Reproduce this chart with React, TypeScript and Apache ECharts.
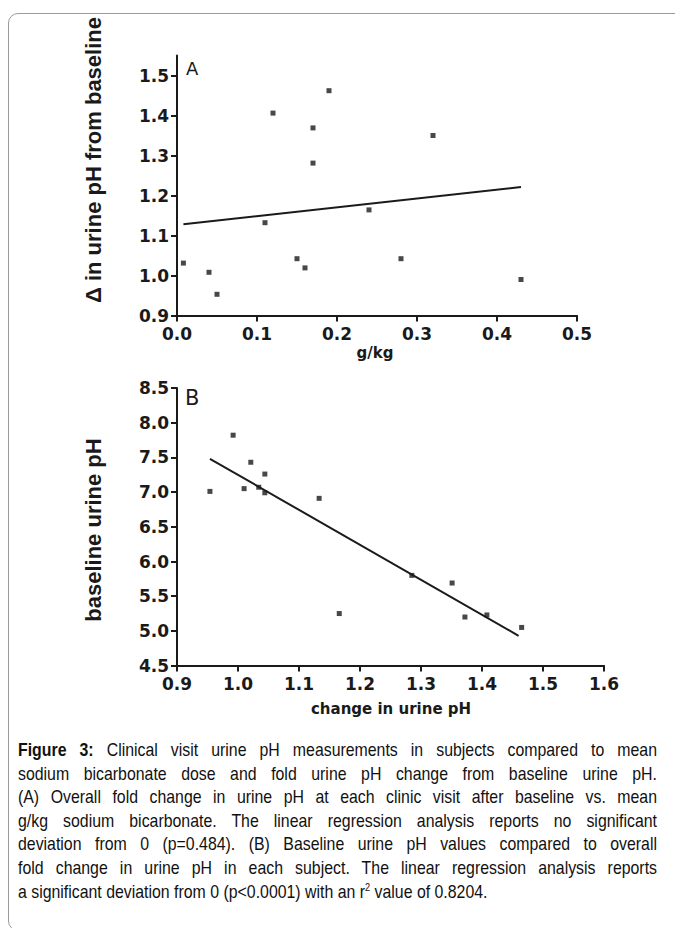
import React, { useEffect, useRef } from "react";
import * as echarts from "echarts";

// Panel A: mean g/kg sodium bicarbonate vs fold change in urine pH
const doseA = [0.008, 0.04, 0.05, 0.11, 0.12, 0.15, 0.16, 0.17, 0.17, 0.19, 0.24, 0.28, 0.32, 0.43];
const foldA = [1.031, 1.008, 0.953, 1.132, 1.406, 1.042, 1.019, 1.369, 1.281, 1.462, 1.164, 1.042, 1.35, 0.99];
const fitAx = [0.008, 0.43];
const fitAy = [1.128, 1.221];
const yTicksA = [0.9, 1.0, 1.1, 1.2, 1.3, 1.4, 1.5];

// Panel B: fold change vs baseline urine pH
const changeB = [0.954, 0.992, 1.021, 1.01, 1.034, 1.044, 1.044, 1.133, 1.166, 1.285, 1.351, 1.372, 1.408, 1.465];
const baseB = [7.01, 7.82, 7.43, 7.05, 7.07, 7.26, 6.99, 6.91, 5.25, 5.8, 5.69, 5.2, 5.23, 5.05];
const fitBx = [0.954, 1.46];
const fitBy = [7.48, 4.93];

const captionLines = [
  "Clinical visit urine pH measurements in subjects compared to mean",
  "sodium bicarbonate dose and fold urine pH change from baseline urine pH.",
  "(A) Overall fold change in urine pH at each clinic visit after baseline vs. mean",
  "g/kg sodium bicarbonate. The linear regression analysis reports no significant",
  "deviation from 0 (p=0.484). (B) Baseline urine pH values compared to overall",
  "fold change in urine pH in each subject. The linear regression analysis reports",
];

const FONT = "'Liberation Sans', Arial, Helvetica, sans-serif";
const WIDE = "'DejaVu Sans', 'Liberation Sans', sans-serif";
const INK = "#1a1a1a";

function axisCommon() {
  return {
    axisLine: { show: true, onZero: false, lineStyle: { color: INK, width: 2 } },
    axisTick: { show: true, inside: false, length: 6, lineStyle: { color: INK, width: 2 } },
    splitLine: { show: false },
    axisLabel: {
      color: INK,
      fontFamily: WIDE,
      fontWeight: "bold" as const,
      fontSize: 17,
      formatter: (v: number) => v.toFixed(1),
    },
  };
}

export default function App() {
  const ref = useRef<HTMLDivElement>(null);
  useEffect(() => {
    if (!ref.current) return;
    const chart = echarts.init(ref.current, null, { renderer: "svg" });
    const sym = { symbol: "rect", symbolSize: 5, itemStyle: { color: INK } };
    chart.setOption({
      animation: false,
      grid: [
        { left: 177, top: 55.5, width: 400, height: 260 },
        { left: 177, top: 388, width: 427, height: 277.6 },
      ],
      xAxis: [
        { type: "value", gridIndex: 0, min: 0, max: 0.5, interval: 0.1, ...axisCommon(),
          axisLabel: { ...axisCommon().axisLabel, margin: 10 } },
        { type: "value", gridIndex: 1, min: 0.9, max: 1.6, interval: 0.1, ...axisCommon(),
          axisLabel: { ...axisCommon().axisLabel, margin: 10 } },
      ],
      yAxis: [
        { type: "value", gridIndex: 0, min: 0.9, max: 1.55, ...axisCommon(),
          axisTick: { ...axisCommon().axisTick, customValues: yTicksA },
          axisLabel: { ...axisCommon().axisLabel, customValues: yTicksA, margin: 8 } },
        { type: "value", gridIndex: 1, min: 4.5, max: 8.5, interval: 0.5, ...axisCommon(),
          axisLabel: { ...axisCommon().axisLabel, margin: 8 } },
      ],
      series: [
        { type: "scatter", xAxisIndex: 0, yAxisIndex: 0, data: doseA.map((x, i) => [x, foldA[i]]), ...sym },
        { type: "line", xAxisIndex: 0, yAxisIndex: 0, data: fitAx.map((x, i) => [x, fitAy[i]]),
          showSymbol: false, lineStyle: { color: INK, width: 2 } },
        { type: "scatter", xAxisIndex: 1, yAxisIndex: 1, data: changeB.map((x, i) => [x, baseB[i]]), ...sym },
        { type: "line", xAxisIndex: 1, yAxisIndex: 1, data: fitBx.map((x, i) => [x, fitBy[i]]),
          showSymbol: false, lineStyle: { color: INK, width: 2 } },
      ],
      graphic: [
        { type: "text", x: 186, y: 68, style: { text: "A", fontFamily: WIDE, fontSize: 18, fill: INK, verticalAlign: "middle" } },
        { type: "text", x: 185, y: 398, style: { text: "B", fontFamily: WIDE, fontSize: 21, fill: INK, verticalAlign: "middle" } },
        { type: "text", x: 93, y: 160, rotation: Math.PI / 2,
          style: { text: "Δ in urine pH from baseline", fontFamily: FONT, fontWeight: "bold", fontSize: 22, fill: INK, align: "center", verticalAlign: "middle" } },
        { type: "text", x: 93, y: 530, rotation: Math.PI / 2,
          style: { text: "baseline urine pH", fontFamily: FONT, fontWeight: "bold", fontSize: 22, fill: INK, align: "center", verticalAlign: "middle" } },
        { type: "text", x: 375, y: 353,
          style: { text: "g/kg", fontFamily: WIDE, fontWeight: "bold", fontSize: 15, fill: INK, align: "center", verticalAlign: "middle" } },
        { type: "text", x: 391, y: 709,
          style: { text: "change in urine pH", fontFamily: WIDE, fontWeight: "bold", fontSize: 15, fill: INK, align: "center", verticalAlign: "middle" } },
      ],
    });
    return () => chart.dispose();
  }, []);

  const SX = 0.835;
  const lineStyle: React.CSSProperties = {
    whiteSpace: "nowrap",
    textAlign: "justify",
    textAlignLast: "justify",
    width: 639 / SX,
    height: 23.6,
    lineHeight: "23.6px",
    transform: `scaleX(${SX})`,
    transformOrigin: "0 0",
  };

  return (
    <div style={{ position: "fixed", left: 0, top: 0, width: 675, height: 928, background: "#fff", overflow: "hidden" }}>
      <div style={{ position: "absolute", left: 8, top: 13, width: 690, height: 916, border: "1px solid #9a9a9a", borderRadius: 10 }} />
      <div ref={ref} style={{ position: "absolute", left: 0, top: 0, width: 675, height: 740 }} />
      <div style={{ position: "absolute", left: 18, top: 738, width: 639, fontFamily: FONT, fontSize: 19, color: "#111" }}>
        {captionLines.map((l, i) => (
          <div key={i} style={lineStyle}>
            {i === 0 ? <><b>Figure 3:</b> {l}</> : l}
          </div>
        ))}
        <div style={{ ...lineStyle, textAlign: "left", textAlignLast: "left" }}>
          a significant deviation from 0 (p&lt;0.0001) with an r<sup style={{ fontSize: 11, lineHeight: 0 }}>2</sup> value of 0.8204.
        </div>
      </div>
    </div>
  );
}
